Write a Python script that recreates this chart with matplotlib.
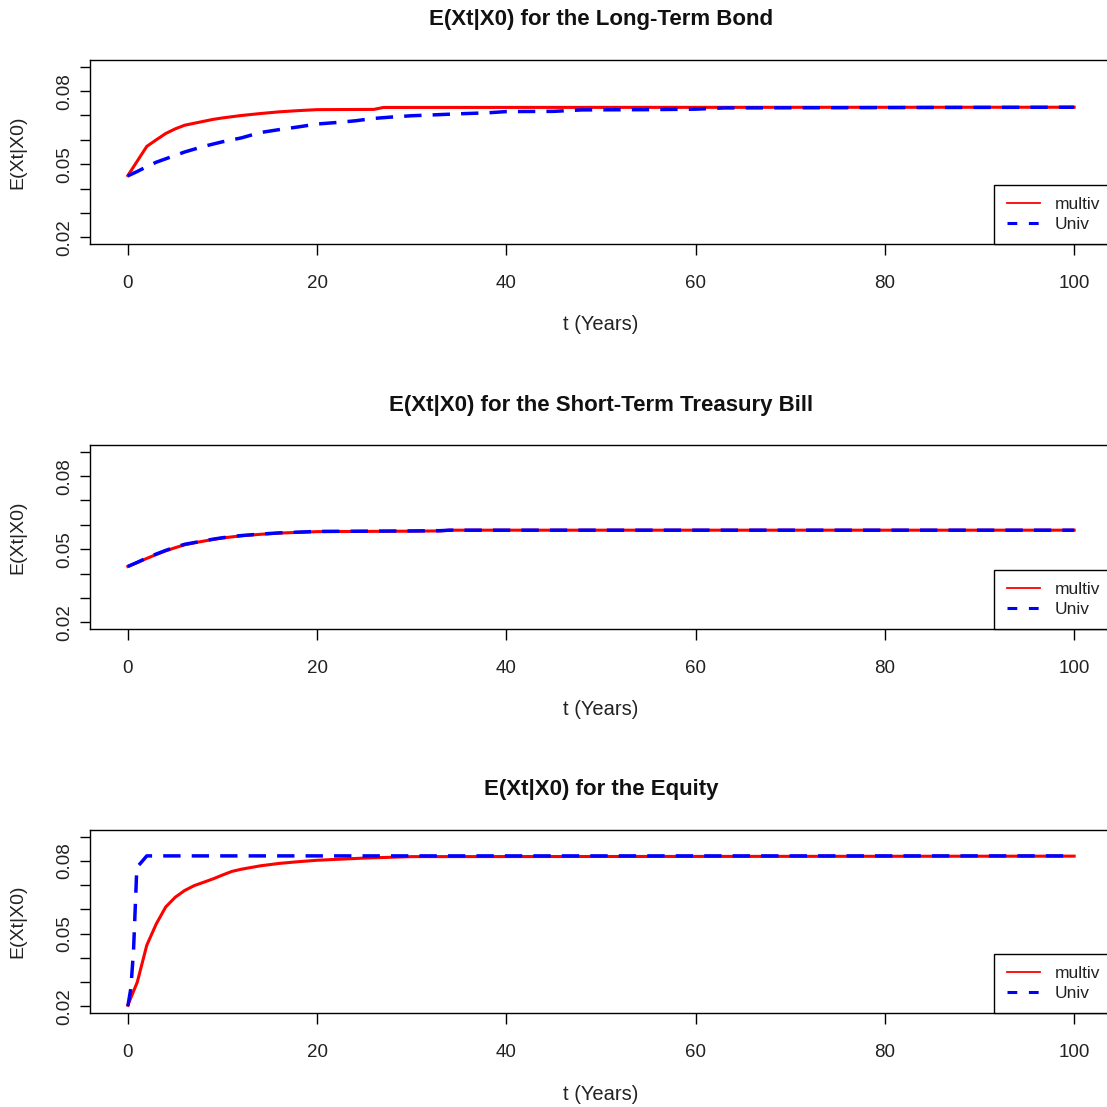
import matplotlib
matplotlib.use("Agg")
import matplotlib.pyplot as plt
from matplotlib.lines import Line2D

plt.rcParams['font.family'] = ['Liberation Sans', 'DejaVu Sans']

# ---------------- data ----------------
titles = ["E(Xt|X0) for the Long-Term Bond",
          "E(Xt|X0) for the Short-Term Treasury Bill",
          "E(Xt|X0) for the Equity"]
series_labels = ["multiv", "Univ"]
x_ticks = [0, 20, 40, 60, 80, 100]
y_ticks = [0.02, 0.03, 0.04, 0.05, 0.06, 0.07, 0.08, 0.09]
y_ticklabels = ["0.02", "", "", "0.05", "", "", "0.08", ""]

t_bond_multiv = [0, 1, 2, 3, 4, 5, 6, 7, 8, 9, 10, 12, 14, 16, 18, 20, 26, 27, 100]
bond_multiv = [0.0453, 0.0513, 0.0573, 0.0600, 0.0626, 0.0645, 0.0660, 0.0668, 0.0676,
               0.0684, 0.0690, 0.0700, 0.0708, 0.0715, 0.0720, 0.0724, 0.0725, 0.0733, 0.0734]

t_bond_univ = [0, 1, 2, 3, 4, 6, 8, 10, 12, 14, 16, 18, 20, 22, 24, 26, 28, 30, 32, 35,
               38, 40, 45, 48, 55, 60, 63, 100]
bond_univ = [0.0452, 0.0470, 0.0490, 0.0508, 0.0522, 0.0550, 0.0573, 0.0592, 0.0608, 0.0630,
             0.0642, 0.0653, 0.0665, 0.0671, 0.0678, 0.0688, 0.0694, 0.0699, 0.0702, 0.0707,
             0.0711, 0.0716, 0.0717, 0.0723, 0.0724, 0.0726, 0.0731, 0.0734]

t_bill_multiv = [0, 1, 2, 3, 4, 5, 6, 7, 8, 9, 10, 12, 14, 16, 18, 20, 25, 30, 33, 34, 100]
bill_multiv = [0.0429, 0.0445, 0.0462, 0.0478, 0.0493, 0.0506, 0.0518, 0.0526, 0.0533, 0.0540,
               0.0546, 0.0555, 0.0561, 0.0566, 0.0569, 0.0572, 0.0573, 0.0574, 0.0575, 0.0578, 0.0578]

t_bill_univ = [0, 1, 2, 3, 4, 5, 6, 7, 8, 9, 10, 12, 14, 16, 18, 20, 25, 30, 33, 34, 100]
bill_univ = [0.0429, 0.0446, 0.0464, 0.0480, 0.0495, 0.0508, 0.0520, 0.0527, 0.0534, 0.0541,
             0.0547, 0.0556, 0.0562, 0.0567, 0.0570, 0.0573, 0.0574, 0.0575, 0.0576, 0.0578, 0.0578]

t_eq_multiv = [0, 1, 2, 3, 4, 5, 6, 7, 8, 9, 10, 11, 12, 14, 16, 18, 20, 25, 30, 100]
eq_multiv = [0.0204, 0.0300, 0.0452, 0.0540, 0.0610, 0.0650, 0.0678, 0.0698, 0.0712, 0.0726,
             0.0742, 0.0757, 0.0766, 0.0780, 0.0790, 0.0797, 0.0803, 0.0812, 0.0818, 0.0820]

t_eq_univ = [0, 0.3, 0.4, 0.6, 0.95, 2, 100]
eq_univ = [0.0200, 0.0270, 0.0320, 0.0430, 0.0773, 0.0821, 0.0821]

panels = [
    (titles[0], t_bond_multiv, bond_multiv, t_bond_univ, bond_univ),
    (titles[1], t_bill_multiv, bill_multiv, t_bill_univ, bill_univ),
    (titles[2], t_eq_multiv, eq_multiv, t_eq_univ, eq_univ),
]

# ---------------- layout ----------------
W = H = 1107
fig = plt.figure(figsize=(W / 100, H / 100), dpi=100)
fig.patch.set_facecolor("white")

# (top px, bottom px) of each plot box
boxes = [(60, 244), (445, 629), (830, 1013)]
left_px, right_px = 90, 1112

for (title, tm, ym, tu, yu), (top, bot) in zip(panels, boxes):
    ax = fig.add_axes([left_px / W, 1 - bot / H, (right_px - left_px) / W, (bot - top) / H])
    ax.plot(tm, ym, color="#ff0000", lw=2.2, solid_joinstyle="miter")
    ax.plot(tu, yu, color="#0000ff", lw=2.5, dashes=(5, 3.2), dash_capstyle="butt")
    ax.set_xlim(-4, 104)
    ax.set_ylim(0.0172, 0.0928)
    ax.set_xticks(x_ticks)
    ax.set_xticklabels([str(v) for v in x_ticks])
    ax.set_yticks(y_ticks)
    ax.set_yticklabels(y_ticklabels, rotation=90, va="center")
    for s in ax.spines.values():
        s.set_linewidth(1.0)
        s.set_color("black")
    ax.tick_params(axis="x", length=8, width=1.0, pad=14, labelsize=13.5, colors="black",
                   labelcolor="#222222")
    ax.tick_params(axis="y", length=7.2, width=1.0, pad=4.5, labelsize=13.5, colors="black",
                   labelcolor="#222222")
    ax.set_xlabel("t (Years)", fontsize=14.5, color="#222222")
    ax.set_ylabel("E(Xt|X0)", fontsize=14, color="#222222")
    ax.yaxis.set_label_coords((17.5 - left_px) / (right_px - left_px), 0.5)
    ax.xaxis.set_label_coords(0.5, -81 / (bot - top))
    ax.xaxis.label.set_va("center")
    ax.yaxis.label.set_va("center")
    fig.text((left_px + right_px) / 2 / W, 1 - (top - 40) / H, title, ha="center", va="center",
             fontsize=16, fontweight="bold", color="#111111")

    handles = [Line2D([], [], color="#ff0000", lw=1.3),
               Line2D([], [], color="#0000ff", lw=2.2, dashes=(3.2, 3.8), dash_capstyle="butt")]
    leg = ax.legend(handles, series_labels, loc="lower right", borderaxespad=0,
                    fontsize=12.5, handlelength=1.95, handletextpad=0.8, borderpad=0.7,
                    labelspacing=0.28, fancybox=False, framealpha=1, edgecolor="black")
    leg.get_frame().set_linewidth(1.0)
    for txt in leg.get_texts():
        txt.set_color("#222222")

fig.savefig("out.png", dpi=100, facecolor="white")
